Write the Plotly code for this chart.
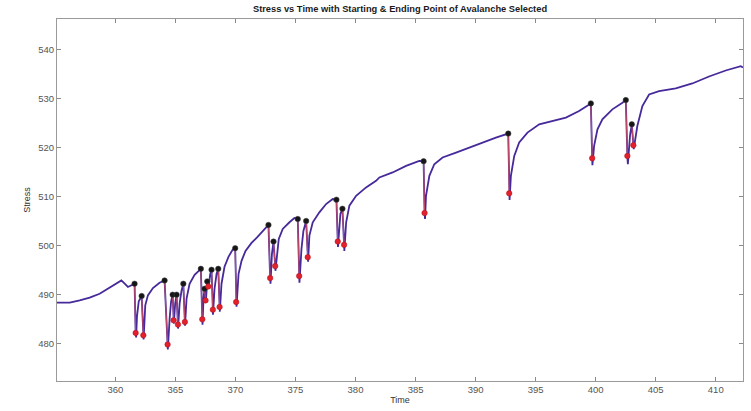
import plotly.graph_objects as go

# Stress record (time, stress), including the start and end of each avalanche
time = [
    355.14, 356.20, 357.03, 357.86, 358.69, 359.27, 359.80, 360.50, 361.05, 361.60,
    361.69, 361.73, 361.80, 361.95, 362.19,
    362.33, 362.35, 362.49, 362.71, 363.13, 363.68, 364.10,
    364.35, 364.37, 364.52, 364.64, 364.77,
    364.85, 364.87, 364.98, 365.10,
    365.21, 365.22, 365.35, 365.51, 365.66,
    365.79, 365.80, 365.93, 366.18, 366.60, 367.01, 367.12,
    367.24, 367.26, 367.34, 367.43,
    367.51, 367.53, 367.65,
    367.74, 367.76, 367.89, 368.01,
    368.12, 368.13, 368.26, 368.43, 368.57,
    368.68, 368.70, 368.84, 369.09, 369.42, 369.76, 369.98,
    370.06, 370.09, 370.26, 370.51, 370.84, 371.34, 371.84, 372.34, 372.75,
    372.89, 372.92, 373.04, 373.17,
    373.31, 373.33, 373.61, 373.94, 374.50, 374.91, 375.19,
    375.31, 375.33, 375.50, 375.66, 375.89,
    376.02, 376.05, 376.16, 376.44, 376.99, 377.55, 378.10, 378.41,
    378.52, 378.54, 378.74, 378.91,
    379.05, 379.07, 379.22, 379.49, 380.05, 380.88, 381.71, 381.99, 383.09, 384.21, 385.31, 385.67,
    385.75, 385.79, 385.87, 386.15, 386.56, 387.25, 388.37, 389.47, 390.58, 391.69, 392.72,
    392.80, 392.83, 392.94, 393.22, 393.63, 394.32, 395.30, 396.40, 397.52, 398.62, 399.60,
    399.71, 399.73, 399.87, 400.15, 400.56, 401.39, 402.23, 402.51,
    402.64, 402.68, 402.87, 403.01,
    403.14, 403.17, 403.47, 403.89, 404.45, 405.28, 406.67, 408.05, 409.44, 410.83, 412.08, 412.27,
]
stress = [
    488.30, 488.30, 488.77, 489.32, 490.13, 490.95, 491.82, 492.84, 491.50, 492.17,
    482.13, 481.18, 485.50, 488.60, 489.66,
    481.64, 480.77, 487.75, 489.79, 491.29, 492.37, 492.84,
    479.75, 478.73, 485.04, 488.50, 489.93,
    484.70, 484.03, 488.10, 489.93,
    483.82, 483.01, 488.10, 490.74, 492.17,
    484.37, 483.62, 489.12, 492.17, 494.00, 495.02, 495.22,
    484.90, 483.82, 489.12, 491.15,
    488.77, 488.30, 492.64,
    491.62, 491.15, 494.00, 495.02,
    486.88, 485.86, 491.15, 494.20, 495.22,
    487.43, 486.47, 492.17, 495.63, 497.66, 499.09, 499.43,
    488.44, 487.49, 494.20, 496.85, 498.89, 500.51, 501.73, 502.96, 504.18,
    493.33, 492.17, 498.27, 500.78,
    495.77, 494.81, 501.33, 503.36, 504.73, 505.60, 505.40,
    493.74, 492.37, 499.29, 502.96, 504.99,
    497.60, 496.65, 502.00, 504.73, 506.76, 508.45, 509.47, 509.33,
    500.78, 499.70, 506.42, 507.49,
    500.11, 498.89, 504.73, 508.11, 510.14, 511.85, 513.19, 513.89, 514.90, 516.25, 517.26, 517.20,
    506.62, 505.40, 510.14, 514.21, 516.59, 517.96, 518.97, 519.99, 521.01, 522.03, 522.84,
    510.63, 509.27, 514.21, 518.28, 521.01, 523.05, 524.73, 525.41, 526.10, 527.44, 529.01,
    517.81, 516.39, 520.32, 523.72, 525.75, 527.79, 529.15, 529.68,
    518.28, 516.59, 522.70, 524.73,
    520.46, 519.65, 524.39, 528.46, 530.84, 531.51, 532.06, 533.08, 534.50, 535.73, 536.60, 536.34,
]

# Selected avalanche start points
start_time = [361.60, 362.19, 364.10, 364.77, 365.10, 365.66, 367.12, 367.43, 367.65, 368.01,
              368.57, 369.98, 372.75, 373.17, 375.19, 375.89, 378.41, 378.91, 385.67, 392.72,
              399.60, 402.51, 403.01]
start_stress = [492.17, 489.66, 492.84, 489.93, 489.93, 492.17, 495.22, 491.15, 492.64, 495.02,
                495.22, 499.43, 504.18, 500.78, 505.40, 504.99, 509.33, 507.49, 517.20, 522.84,
                529.01, 529.68, 524.73]

# Selected avalanche end points
end_time = [361.69, 362.33, 364.35, 364.85, 365.21, 365.79, 367.24, 367.51, 367.74, 368.12,
            368.68, 370.06, 372.89, 373.31, 375.31, 376.02, 378.52, 379.05, 385.75, 392.80,
            399.71, 402.64, 403.14]
end_stress = [482.13, 481.64, 479.75, 484.70, 483.82, 484.37, 484.90, 488.77, 491.62, 486.88,
              487.43, 488.44, 493.33, 495.77, 493.74, 497.60, 500.78, 500.11, 506.62, 510.63,
              517.81, 518.28, 520.46]

x_ticks = [360, 365, 370, 375, 380, 385, 390, 395, 400, 405, 410]
y_ticks = [480, 490, 500, 510, 520, 530, 540]

# drop segments drawn over the record, separated by gaps
drop_x, drop_y = [], []
for t0, s0, t1, s1 in zip(start_time, start_stress, end_time, end_stress):
    drop_x += [t0, t1, None]
    drop_y += [s0, s1, None]

fig = go.Figure()
fig.add_trace(go.Scatter(x=time, y=stress, mode="lines",
                         line=dict(color="#46299a", width=1.8), hoverinfo="skip"))
fig.add_trace(go.Scatter(x=drop_x, y=drop_y, mode="lines",
                         line=dict(color="rgba(220,80,90,0.8)", width=1.1), hoverinfo="skip"))
fig.add_trace(go.Scatter(x=start_time, y=start_stress, mode="markers",
                         marker=dict(color="#161616", size=5.5,
                                     line=dict(color="#444", width=0.5))))
fig.add_trace(go.Scatter(x=end_time, y=end_stress, mode="markers",
                         marker=dict(color="#e3202b", size=5.5,
                                     line=dict(color="#b01018", width=0.5))))

label_font = "Liberation Sans, Arial, sans-serif"
axis_font = dict(family=label_font, size=9.5, color="#555555")
common = dict(showline=True, linecolor="#9a9a9a", linewidth=1, mirror="ticks",
              ticks="inside", ticklen=4, tickcolor="#8a8a8a", tickwidth=1,
              showgrid=False, zeroline=False, tickfont=axis_font)

fig.update_layout(
    width=751, height=411,
    margin=dict(l=57, r=7, t=19, b=28),
    paper_bgcolor="white", plot_bgcolor="white",
    showlegend=False,
    title=dict(text="<b>Stress vs Time with Starting &amp; Ending Point of Avalanche Selected</b>",
               x=0.5, xref="paper", xanchor="center",
               y=1 - 9 / 411, yref="container", yanchor="middle",
               font=dict(family=label_font, size=9.3, color="#1a1a1a")),
    xaxis=dict(range=[355.14, 412.27], tickvals=x_ticks,
               title=dict(text="Time", standoff=2,
                          font=dict(family=label_font, size=9, color="#333")),
               **common),
    yaxis=dict(range=[472.3, 546.25], tickvals=y_ticks,
               title=dict(text="Stress", standoff=6,
                          font=dict(family=label_font, size=9, color="#333")),
               **common),
)

fig.write_html("out.html")
